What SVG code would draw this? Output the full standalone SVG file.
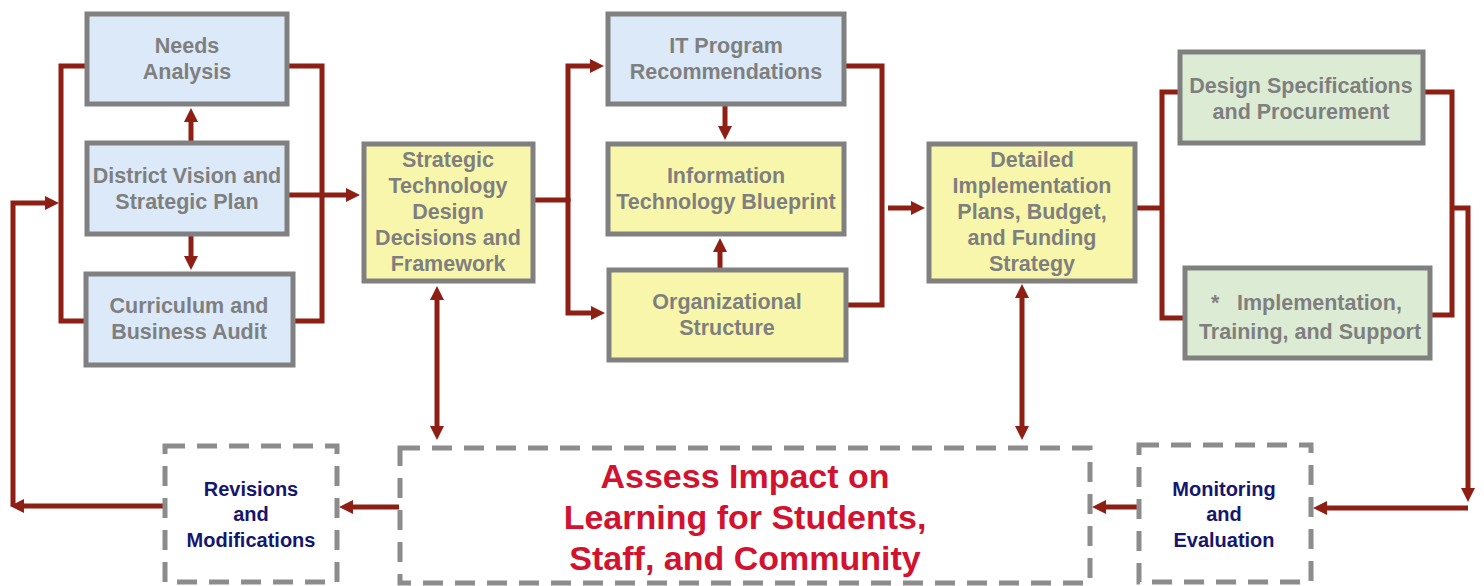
<svg xmlns="http://www.w3.org/2000/svg" width="1484" height="586" viewBox="0 0 1484 586">
<style>
.box{stroke:#808080;stroke-width:5}
.blue{fill:#dbe9f8}
.yellow{fill:#f8f6aa}
.green{fill:#dcebd4}
.dash{fill:#ffffff;stroke:#8c8c8c;stroke-width:5;stroke-dasharray:20 12}
.t{font-family:"Liberation Sans",Arial,sans-serif;font-weight:bold;font-size:21.5px;fill:#7f7f7f;text-anchor:middle}
.n{font-family:"Liberation Sans",Arial,sans-serif;font-weight:bold;font-size:20px;fill:#16166e;text-anchor:middle}
.r{font-family:"Liberation Sans",Arial,sans-serif;font-weight:bold;font-size:34px;fill:#d2122e;text-anchor:middle}
.c{fill:none;stroke:#8e1f14;stroke-width:5}
</style>
<defs>
<marker id="ah" viewBox="0 0 14 14" markerWidth="14" markerHeight="14" refX="4" refY="7" orient="auto-start-reverse" markerUnits="userSpaceOnUse">
<path d="M0,0 L14,7 L0,14 z" fill="#8e1f14"/>
</marker>
</defs>
<rect width="1484" height="586" fill="#ffffff"/>
<g id="connectors">
<path class="c" d="M85,66 H61 V321 H84"/>
<path class="c" d="M13,506 V203 H49" marker-end="url(#ah)"/>
<path class="c" d="M289,66 H322 V321 H295"/>
<path class="c" d="M191,141 V118" marker-end="url(#ah)"/>
<path class="c" d="M191,236 V260" marker-end="url(#ah)"/>
<path class="c" d="M289,195 H350" marker-end="url(#ah)"/>
<path class="c" d="M534,200 H568"/>
<path class="c" d="M568,202 V66 H594" marker-end="url(#ah)"/>
<path class="c" d="M568,198 V313 H595" marker-end="url(#ah)"/>
<path class="c" d="M725,106 V130" marker-end="url(#ah)"/>
<path class="c" d="M720,268 V248" marker-end="url(#ah)"/>
<path class="c" d="M846,66 H882 V305 H848"/>
<path class="c" d="M888,208 H915" marker-end="url(#ah)"/>
<path class="c" d="M1136,208 H1162"/>
<path class="c" d="M1178,92 H1162 V318 H1183"/>
<path class="c" d="M1425,92 H1452 V315 H1432"/>
<path class="c" d="M1452,208 H1468 V492" marker-end="url(#ah)"/>
<path class="c" d="M1468,508 H1323" marker-end="url(#ah)"/>
<path class="c" d="M1139,507 H1102" marker-end="url(#ah)"/>
<path class="c" d="M399,507 H349" marker-end="url(#ah)"/>
<path class="c" d="M165,506 H20" marker-end="url(#ah)"/>
<path class="c" d="M437,296 V430" marker-start="url(#ah)" marker-end="url(#ah)"/>
<path class="c" d="M1022,294 V430" marker-start="url(#ah)" marker-end="url(#ah)"/>
</g>
<g id="needs-analysis">
<rect class="box blue" x="87" y="14" width="200" height="90"/>
<text class="t" x="187" y="53">Needs</text>
<text class="t" x="187" y="79">Analysis</text>
</g>
<g id="district-vision">
<rect class="box blue" x="87" y="143" width="200" height="91"/>
<text class="t" x="187" y="183">District Vision and</text>
<text class="t" x="187" y="209">Strategic Plan</text>
</g>
<g id="curriculum-audit">
<rect class="box blue" x="86" y="274" width="207" height="91"/>
<text class="t" x="189" y="313">Curriculum and</text>
<text class="t" x="189" y="339">Business Audit</text>
</g>
<g id="strategic-technology">
<rect class="box yellow" x="364" y="144" width="169" height="137"/>
<text class="t" x="448" y="167">Strategic</text>
<text class="t" x="448" y="193">Technology</text>
<text class="t" x="448" y="219">Design</text>
<text class="t" x="448" y="245">Decisions and</text>
<text class="t" x="448" y="271">Framework</text>
</g>
<g id="it-program">
<rect class="box blue" x="608" y="14" width="236" height="90"/>
<text class="t" x="726" y="53">IT Program</text>
<text class="t" x="726" y="79">Recommendations</text>
</g>
<g id="it-blueprint">
<rect class="box yellow" x="608" y="144" width="236" height="90"/>
<text class="t" x="726" y="183">Information</text>
<text class="t" x="726" y="209">Technology Blueprint</text>
</g>
<g id="organizational-structure">
<rect class="box yellow" x="609" y="270" width="237" height="90"/>
<text class="t" x="727" y="309">Organizational</text>
<text class="t" x="727" y="335">Structure</text>
</g>
<g id="detailed-implementation">
<rect class="box yellow" x="929" y="144" width="206" height="137"/>
<text class="t" x="1032" y="167">Detailed</text>
<text class="t" x="1032" y="193">Implementation</text>
<text class="t" x="1032" y="219">Plans, Budget,</text>
<text class="t" x="1032" y="245">and Funding</text>
<text class="t" x="1032" y="271">Strategy</text>
</g>
<g id="design-specifications">
<rect class="box green" x="1180" y="52" width="243" height="91"/>
<text class="t" x="1301" y="93">Design Specifications</text>
<text class="t" x="1301" y="119">and Procurement</text>
</g>
<g id="implementation-training">
<rect class="box green" x="1185" y="268" width="245" height="90"/>
<text class="t" x="1211" y="310" style="text-anchor:start">*<tspan x="1237">Implementation,</tspan></text>
<text class="t" x="1310" y="339">Training, and Support</text>
</g>
<g id="revisions">
<rect class="dash" x="165" y="446" width="172" height="136"/>
<text class="n" x="251" y="496">Revisions</text>
<text class="n" x="251" y="521">and</text>
<text class="n" x="251" y="547">Modifications</text>
</g>
<g id="assess-impact">
<rect class="dash" x="400" y="448" width="690" height="135"/>
<text class="r" x="745" y="488">Assess Impact on</text>
<text class="r" x="745" y="529">Learning for Students,</text>
<text class="r" x="745" y="570">Staff, and Community</text>
</g>
<g id="monitoring">
<rect class="dash" x="1139" y="445" width="172" height="137"/>
<text class="n" x="1224" y="496">Monitoring</text>
<text class="n" x="1224" y="521">and</text>
<text class="n" x="1224" y="547">Evaluation</text>
</g>
</svg>
